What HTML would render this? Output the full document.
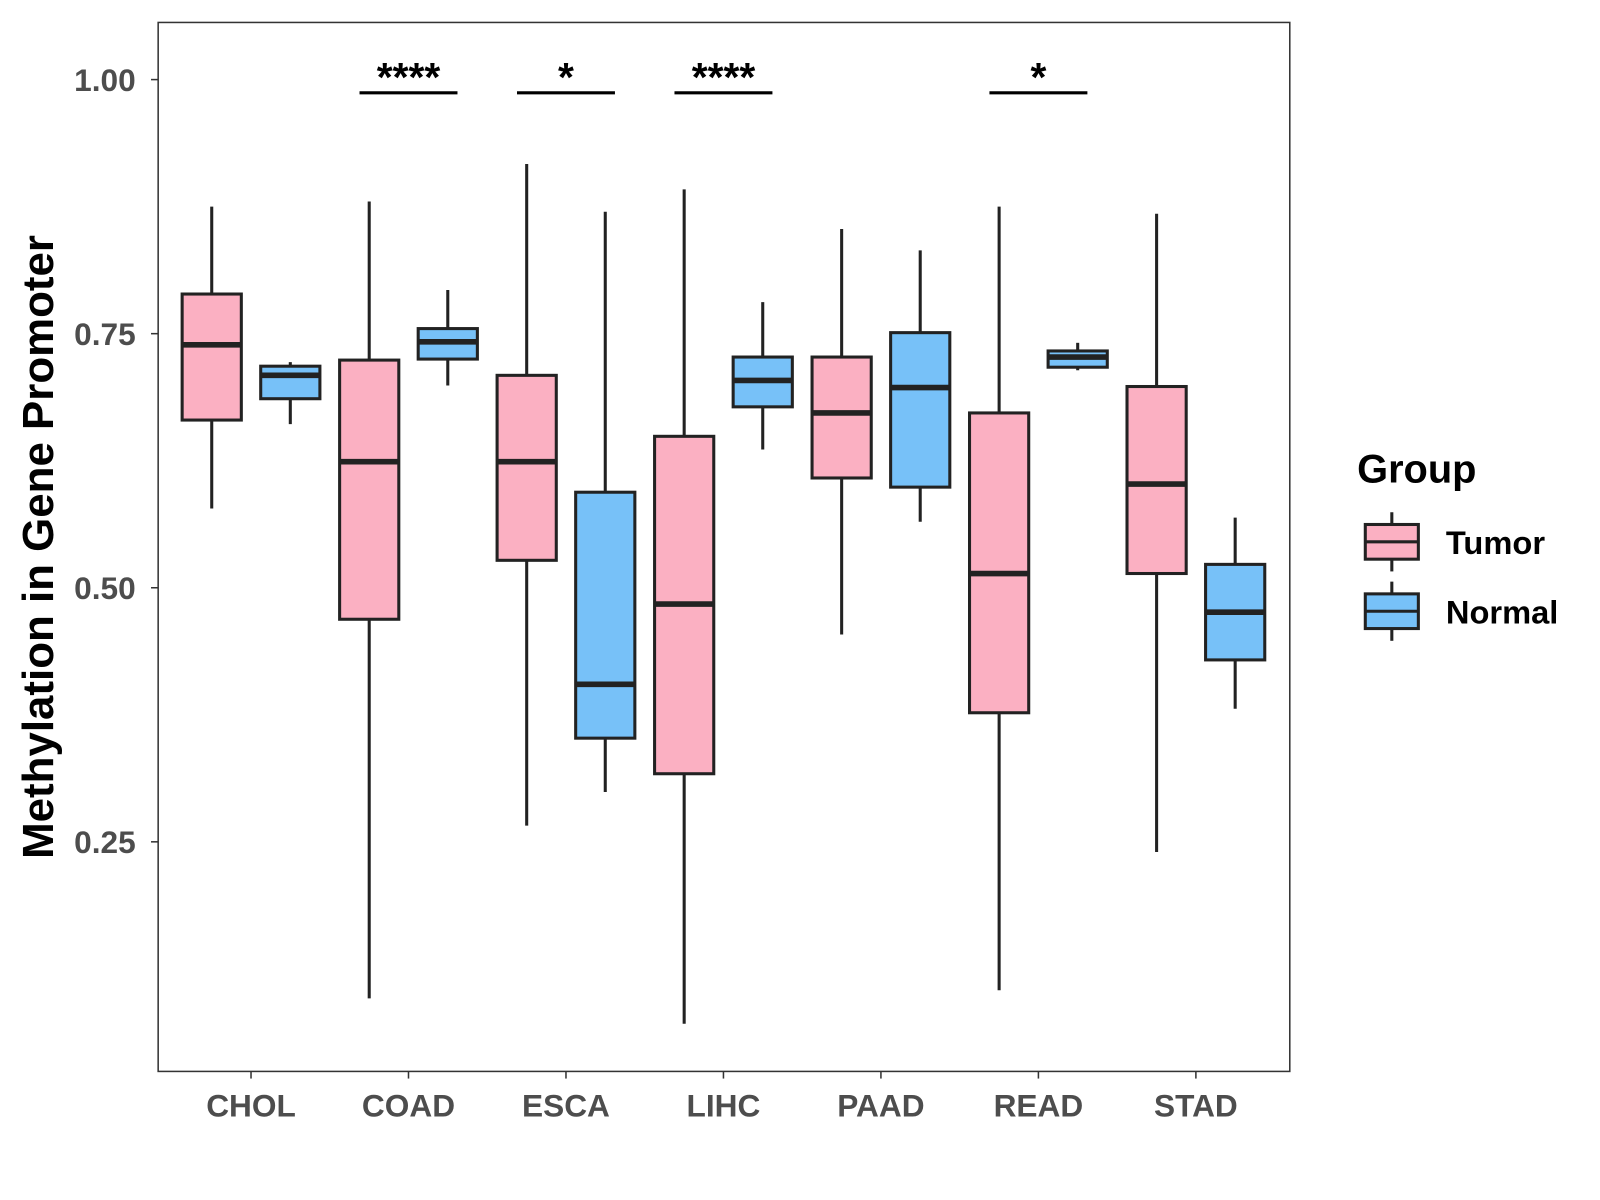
<!DOCTYPE html>
<html><head><meta charset="utf-8"><style>
body{margin:0;background:#fff;}
svg{display:block;font-family:"Liberation Sans",Arial,sans-serif;}
</style></head><body>
<svg id="chart" width="1600" height="1200" viewBox="0 0 1600 1200">
<g transform="scale(1.0204)">
<rect x="155" y="22" width="1109" height="1028" fill="#fff" stroke="#333" stroke-width="1.5"/>
<g id="yaxis"></g>
<g id="xaxis"></g>
<g id="boxes"></g>
<g id="sig"></g>
<text x="0" y="0" transform="translate(52,536) rotate(-90)" text-anchor="middle" font-size="43" font-weight="bold" fill="#000">Methylation in Gene Promoter</text>
<g>
<text x="1330" y="473" font-size="39" font-weight="bold">Group</text>
<g>
<line x1="1364" y1="502" x2="1364" y2="560" stroke="#222" stroke-width="3"/>
<rect x="1338" y="514" width="52" height="34" fill="#FBB0C2" stroke="#222" stroke-width="3"/>
<line x1="1338" y1="531" x2="1390" y2="531" stroke="#222" stroke-width="3"/>
<text x="1417" y="543" font-size="32" font-weight="bold">Tumor</text></g>
<g>
<line x1="1364" y1="570" x2="1364" y2="628" stroke="#222" stroke-width="3"/>
<rect x="1338" y="582" width="52" height="34" fill="#77C1F8" stroke="#222" stroke-width="3"/>
<line x1="1338" y1="599" x2="1390" y2="599" stroke="#222" stroke-width="3"/>
<text x="1417" y="611" font-size="32" font-weight="bold">Normal</text></g>
</g>
</g>
</svg>
<script>
const categories=["CHOL","COAD","ESCA","LIHC","PAAD","READ","STAD"];
// [upper whisker, q3, median, q1, lower whisker]
const tumorStats=[[0.875,0.789,0.739,0.665,0.578],[0.880,0.724,0.624,0.469,0.096],[0.917,0.709,0.624,0.527,0.266],[0.892,0.649,0.484,0.317,0.071],[0.853,0.727,0.672,0.608,0.454],[0.875,0.672,0.514,0.377,0.104],[0.868,0.698,0.602,0.514,0.240]];
const normalStats=[[0.722,0.718,0.709,0.686,0.661],[0.793,0.755,0.742,0.725,0.699],[0.870,0.594,0.405,0.352,0.299],[0.781,0.727,0.704,0.678,0.636],[0.832,0.751,0.697,0.599,0.565],[0.741,0.733,0.727,0.717,0.714],[0.569,0.523,0.476,0.429,0.381]];
const yTicks=[0.25,0.5,0.75,1.0];
const yTickLabels=["0.25","0.50","0.75","1.00"];
const sigCats=["COAD","ESCA","LIHC","READ"];
const sigLabels=["****","*","****","*"];
const sigY=0.987;

const NS="http://www.w3.org/2000/svg";
const yS=v=>78+(1-v)*996;
const xS=i=>246+i*154.33;
function mk(tag,attrs,parent){const e=document.createElementNS(NS,tag);for(const k in attrs)e.setAttribute(k,attrs[k]);parent.appendChild(e);return e;}
const ya=document.getElementById('yaxis'),xa=document.getElementById('xaxis'),bx=document.getElementById('boxes'),sg=document.getElementById('sig');
yTicks.forEach((t,i)=>{
 const l=mk('line',{x1:148,x2:155,y1:yS(t),y2:yS(t),stroke:'#333','stroke-width':1.5},ya);
 
 
 const tx=mk('text',{x:133,y:yS(t)+11,'text-anchor':'end','font-size':31,'font-weight':'bold',fill:'#4d4d4d'},ya);
 tx.textContent=yTickLabels[i];
 
 
});
categories.forEach((c,i)=>{
 const l=mk('line',{x1:xS(i),x2:xS(i),y1:1050,y2:1057,stroke:'#333','stroke-width':1.5},xa);
 
 
 const tx=mk('text',{x:xS(i),y:1094,'text-anchor':'middle','font-size':31,'font-weight':'bold',fill:'#4d4d4d'},xa);
 tx.textContent=c;
 
 
});
function drawBox(cx,s,fill,name){
 const g=mk('g',{},bx);
 
 
 const w=29;
 mk('line',{x1:cx,x2:cx,y1:yS(s[0]),y2:yS(s[4]),stroke:'#222','stroke-width':3},g);
 mk('rect',{x:cx-w,y:yS(s[1]),width:2*w,height:yS(s[3])-yS(s[1]),fill:fill,stroke:'#222','stroke-width':3},g);
 mk('line',{x1:cx-w,x2:cx+w,y1:yS(s[2]),y2:yS(s[2]),stroke:'#222','stroke-width':5.5},g);
}
categories.forEach((c,i)=>{
 drawBox(xS(i)-38.5,tumorStats[i],'#FBB0C2','box-tumor-'+c.toLowerCase());
 drawBox(xS(i)+38.5,normalStats[i],'#77C1F8','box-normal-'+c.toLowerCase());
});
sigCats.forEach((c,k)=>{
 const i=categories.indexOf(c);
 const l=mk('line',{x1:xS(i)-48,x2:xS(i)+48,y1:yS(sigY),y2:yS(sigY),stroke:'#000','stroke-width':3},sg);
 
 
 const tx=mk('text',{x:xS(i),y:yS(sigY)-2,'text-anchor':'middle','font-size':40,'font-weight':'bold',fill:'#000'},sg);
 tx.textContent=sigLabels[k];
 
 
});
</script>
</body></html>
